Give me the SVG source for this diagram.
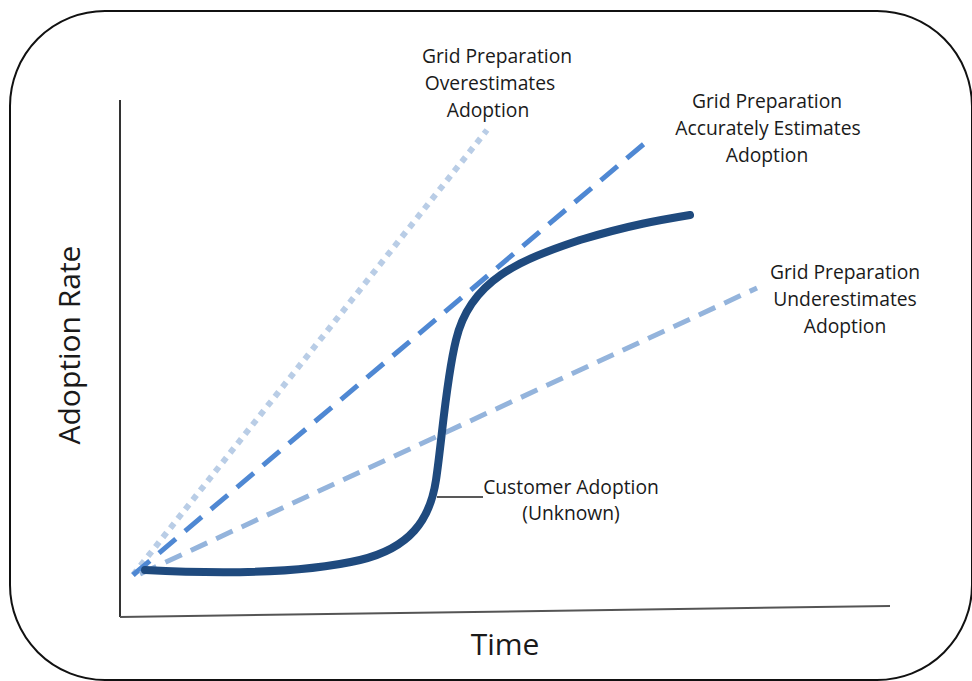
<svg xmlns="http://www.w3.org/2000/svg" width="972" height="681" viewBox="0 0 972 681">
<style>
text{font-family:"Open Sans","Liberation Sans",Arial,sans-serif;fill:#1a1a1a;text-anchor:middle}
.lbl{font-size:19.3px}
.ax{font-size:30px}
</style>
<rect width="972" height="681" fill="#fff"/>
<rect id="frame" x="10" y="11" width="962" height="669" rx="95" ry="95" fill="none" stroke="#111" stroke-width="2"/>
<g id="axes" stroke="#333" fill="none">
<line x1="120" y1="100" x2="120" y2="617" stroke-width="2"/>
<line x1="120" y1="617" x2="890" y2="606" stroke-width="2" stroke="#555"/>
</g>
<g id="connectors" fill="none">
<line x1="133" y1="575" x2="487" y2="130" stroke="#b9cde6" stroke-width="6" stroke-dasharray="6,6"/>
<line x1="133" y1="575" x2="645" y2="143" stroke="#4f88d3" stroke-width="5" stroke-dasharray="22,12"/>
<line x1="140" y1="574" x2="757" y2="288" stroke="#94b4dc" stroke-width="5" stroke-dasharray="18,10"/>
<path d="M145,570 C220,574 300,574 360,560 C410,548 430,520 436,480 C442,440 446,380 456,340 C470,280 520,260 580,240 C630,225 660,220 690,215" stroke="#1f4a7e" stroke-width="8" stroke-linecap="round"/>
<line x1="437" y1="497" x2="483" y2="497" stroke="#222" stroke-width="1.5"/>
</g>
<g id="over"><text class="lbl" x="497" y="63">Grid Preparation</text><text class="lbl" x="490" y="90">Overestimates</text><text class="lbl" x="488" y="117">Adoption</text></g>
<g id="accurate"><text class="lbl" x="767" y="108">Grid Preparation</text><text class="lbl" x="768" y="135">Accurately Estimates</text><text class="lbl" x="767" y="162">Adoption</text></g>
<g id="under"><text class="lbl" x="845" y="279">Grid Preparation</text><text class="lbl" x="845" y="306">Underestimates</text><text class="lbl" x="845" y="333">Adoption</text></g>
<g id="customer"><text class="lbl" x="571" y="494">Customer Adoption</text><text class="lbl" x="571" y="520">(Unknown)</text></g>
<g id="ylabel"><text class="ax" transform="translate(80,345) rotate(-90)">Adoption Rate</text></g>
<g id="xlabel"><text class="ax" x="505" y="655">Time</text></g>
</svg>
